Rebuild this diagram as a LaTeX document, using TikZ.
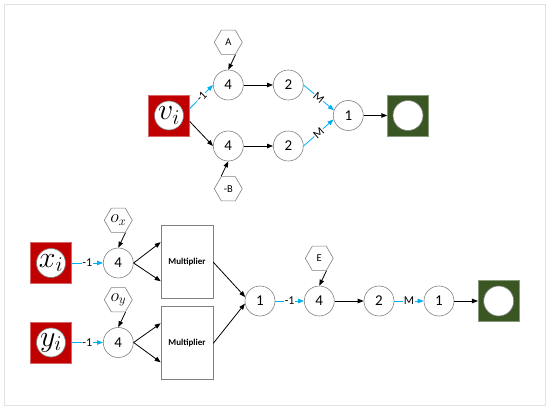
\RequirePackage{fix-cm}
\documentclass[tikz,border=0pt]{standalone}
\usepackage{fontspec}
\setsansfont{Carlito}
\usetikzlibrary{positioning,shapes.geometric,arrows.meta}

\definecolor{flowblue}{HTML}{00B0F0}
\definecolor{inred}{HTML}{C00000}
\definecolor{outgreen}{HTML}{3A5723}
\definecolor{framegray}{HTML}{E2E2E2}

\begin{document}
\begin{tikzpicture}[x=1pt, y=-1pt, line width=0.8pt, >={Triangle[length=6pt,width=4.5pt]},
                    op node/.style={circle,draw=gray,line width=0.6pt,minimum size=30pt,inner sep=0pt,
                                    font=\sffamily\fontsize{15}{15}\selectfont},
                    const node/.style={regular polygon,regular polygon sides=6,draw=gray,line width=0.6pt,
                                    minimum size=28pt,inner sep=0pt,font=\sffamily\fontsize{10.5}{10.5}\selectfont},
                    in node/.style={rectangle,fill=inred,draw=inred!60!white,line width=0.5pt,minimum size=41pt,inner sep=0pt,
                                    path picture={\draw[gray,fill=white,line width=0.6pt] (path picture bounding box.center) circle (14.5pt);},
                                    font=\fontsize{30}{30}\selectfont},
                    out node/.style={rectangle,fill=outgreen,draw=outgreen!60!white,line width=0.5pt,minimum size=41pt,inner sep=0pt,
                                    path picture={\draw[gray,fill=white,line width=0.6pt] (path picture bounding box.center) circle (15pt);}},
                    mult node/.style={rectangle,draw=gray,line width=0.6pt,minimum width=52pt,minimum height=73pt,
                                    font=\sffamily\bfseries\fontsize{9}{9}\selectfont},
                    wlabel/.style={fill=white,text=black,inner sep=0.5pt,font=\sffamily\fontsize{12}{12}\selectfont}]

  \useasboundingbox (0,0) rectangle (550,409);
  \draw[framegray, line width=0.6pt] (4,4) rectangle (545,405);

  % upper network
  \node[in node] (vi) at (169,115.5) {$v_i$};
  \node[op node] (t4) at (228.3,85) {4};
  \node[op node] (b4) at (228.3,146) {4};
  \node[op node] (t2) at (288.3,85) {2};
  \node[op node] (b2) at (288.3,146) {2};
  \node[op node] (p1) at (348.3,115.5) {1};
  \node[out node] (vout) at (408,115.5) {};
  \node[const node] (ca) [above=15pt of t4] {A};
  \node[const node] (cb) [below=15pt of b4] {-B};

  % lower network
  \node[in node] (xi) at (51,263) {$x_i$};
  \node[in node] (yi) at (51,342.5) {$y_i$};
  \node[op node] (x4) at (118.3,263) {4};
  \node[op node] (y4) at (118.3,342.5) {4};
  \node[const node, font=\fontsize{18}{18}\selectfont] (cox) [above=15pt of x4] {$o_x$};
  \node[const node, font=\fontsize{18}{18}\selectfont] (coy) [above=15pt of y4] {$o_y$};
  \node[mult node] (mx) at (187,262.2) {Multiplier};
  \node[mult node] (my) at (187,343.3) {Multiplier};
  \node[op node] (s1) at (260,301) {1};
  \node[op node] (e4) at (319.3,301) {4};
  \node[const node] (ce) [above=15pt of e4] {E};
  \node[op node] (s2) at (379,301) {2};
  \node[op node] (s3) at (439,301) {1};
  \node[out node] (sout) at (498.7,301) {};

  \path[->, black]
    (ca.-60) edge (t4.north)
    (cb.120) edge (b4.south)
    ([yshift=-6pt]vi.east) edge (b4.west)
    (t4) edge (t2)
    (b4) edge (b2)
    (p1) edge (vout.west)
    (cox.-60) edge (x4.north)
    (coy.-60) edge (y4.north)
    (x4.east) edge ([yshift=20pt]mx.west)
    (x4.east) edge ([yshift=-19pt]mx.west)
    (y4.east) edge ([yshift=20pt]my.west)
    (y4.east) edge ([yshift=-19pt]my.west)
    (mx.east) edge (s1.165)
    (my.east) edge (s1.190)
    (ce.-60) edge (e4.north)
    (e4) edge (s2)
    (s3) edge (sout.west);

  \path[->, flowblue, every node/.style={wlabel}]
    ([yshift=7pt]vi.east) edge node[sloped] {-1} (t4.west)
    (t2.east) edge node[sloped] {M} (p1.160)
    (b2.east) edge node[sloped] {M} (p1.195)
    (xi) edge node {-1} (x4)
    (yi) edge node {-1} (y4)
    (s1) edge node {-1} (e4)
    (s2) edge node {M} (s3);

\end{tikzpicture}
\end{document}
